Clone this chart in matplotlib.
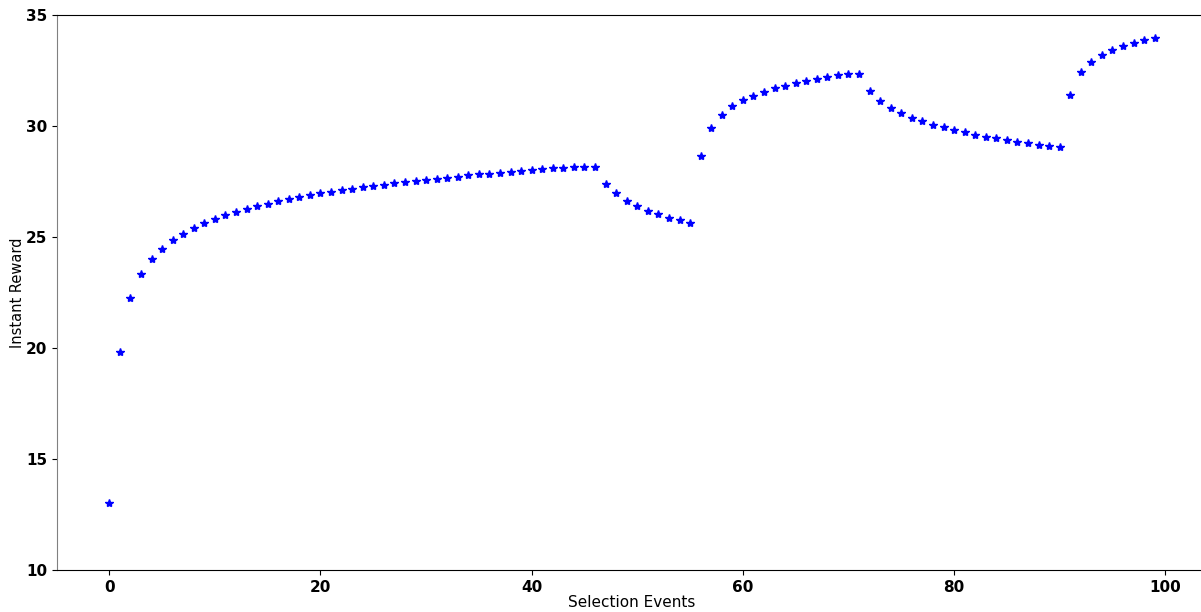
import numpy as np
import matplotlib
matplotlib.use("Agg")
import matplotlib.pyplot as plt

# instant reward per selection event
events = np.arange(100)
reward = [
    13.00, 19.82, 22.27, 23.32, 23.99, 24.47, 24.85, 25.14, 25.39, 25.62,
    25.81, 25.98, 26.13, 26.26, 26.38, 26.50, 26.61, 26.70, 26.79, 26.88,
    26.97, 27.04, 27.12, 27.18, 27.25, 27.31, 27.36, 27.42, 27.46, 27.52,
    27.58, 27.61, 27.67, 27.72, 27.78, 27.82, 27.85, 27.90, 27.93, 27.97,
    28.00, 28.05, 28.09, 28.12, 28.15, 28.17, 28.17, 27.40, 26.97, 26.64,
    26.38, 26.18, 26.02, 25.87, 25.75, 25.63, 28.66, 29.92, 30.51, 30.89,
    31.16, 31.37, 31.55, 31.70, 31.82, 31.94, 32.03, 32.12, 32.22, 32.30,
    32.36, 32.36, 31.59, 31.14, 30.82, 30.59, 30.37, 30.21, 30.06, 29.94,
    29.82, 29.72, 29.61, 29.52, 29.44, 29.37, 29.29, 29.23, 29.15, 29.11,
    29.07, 31.40, 32.42, 32.88, 33.18, 33.41, 33.59, 33.74, 33.87, 33.96,
]

fig = plt.figure(figsize=(12.01, 6.12), dpi=100)
ax = fig.add_axes([57 / 1201, 1 - 570 / 612, (1207 - 57) / 1201, (570 - 15) / 612])

ax.plot(events, reward, "b*", markersize=6)

ax.set_ylim(10, 35)
ax.set_yticks([10, 15, 20, 25, 30, 35])
ax.set_xticks([0, 20, 40, 60, 80, 100])
ax.set_xlabel("Selection Events", fontsize=11, labelpad=0.5)
ax.set_ylabel("Instant Reward", fontsize=10.5, labelpad=0.5)
for lab in ax.get_xticklabels() + ax.get_yticklabels():
    lab.set_fontweight("bold")
    lab.set_fontsize(11)
ax.spines["left"].set_color("gray")
ax.spines["right"].set_visible(False)

fig.savefig("out.png", dpi=100)
